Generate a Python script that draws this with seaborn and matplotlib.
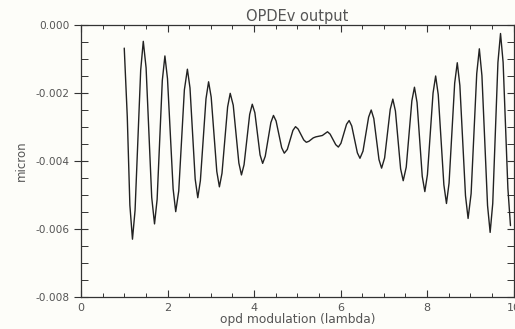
import matplotlib
matplotlib.use("Agg")
import matplotlib.pyplot as plt
import seaborn as sns
import pandas as pd
from matplotlib.ticker import MultipleLocator, FormatStrFormatter

# data (peaks, troughs and shoulder points)
opd = [1.00, 1.07, 1.13, 1.19, 1.25, 1.38, 1.44, 1.505, 1.635, 1.70,
       1.76, 1.88, 1.94, 2.00, 2.13, 2.19, 2.26, 2.39, 2.46, 2.52,
       2.64, 2.70, 2.76, 2.89, 2.95, 3.01, 3.14, 3.20, 3.26, 3.39,
       3.45, 3.52, 3.65, 3.71, 3.77, 3.90, 3.96, 4.02, 4.14, 4.20,
       4.26, 4.39, 4.45, 4.51, 4.64, 4.70, 4.77, 4.90, 4.96, 5.02,
       5.15, 5.21, 5.27, 5.37, 5.43, 5.58, 5.70, 5.76, 5.89, 5.95,
       6.01, 6.14, 6.20, 6.26, 6.39, 6.45, 6.52, 6.65, 6.71, 6.77,
       6.89, 6.95, 7.02, 7.15, 7.21, 7.27, 7.39, 7.45, 7.52, 7.65,
       7.71, 7.77, 7.89, 7.95, 8.01, 8.14, 8.20, 8.26, 8.39, 8.45,
       8.51, 8.64, 8.70, 8.76, 8.89, 8.95, 9.02, 9.15, 9.21, 9.27,
       9.40, 9.46, 9.52, 9.64, 9.70, 9.76, 9.87, 9.93]
micron = [-0.00068, -0.00270, -0.00530, -0.00630, -0.00545, -0.00133, -0.00048, -0.00126, -0.00507, -0.00585,
          -0.00513, -0.00163, -0.00091, -0.00158, -0.00482, -0.00549, -0.00488, -0.00191, -0.00130, -0.00185,
          -0.00453, -0.00508, -0.00458, -0.00217, -0.00167, -0.00212, -0.00431, -0.00476, -0.00436, -0.00241,
          -0.00201, -0.00236, -0.00406, -0.00441, -0.00411, -0.00263, -0.00233, -0.00258, -0.00382, -0.00407,
          -0.00386, -0.00287, -0.00266, -0.00282, -0.00361, -0.00377, -0.00366, -0.00310, -0.00299, -0.00306,
          -0.00338, -0.00345, -0.00342, -0.00332, -0.00329, -0.00325, -0.00314, -0.00321, -0.00352, -0.00359,
          -0.00348, -0.00292, -0.00281, -0.00297, -0.00376, -0.00392, -0.00371, -0.00271, -0.00250, -0.00275,
          -0.00396, -0.00421, -0.00391, -0.00248, -0.00218, -0.00253, -0.00423, -0.00458, -0.00418, -0.00223,
          -0.00183, -0.00228, -0.00445, -0.00490, -0.00440, -0.00200, -0.00150, -0.00205, -0.00470, -0.00525,
          -0.00465, -0.00171, -0.00111, -0.00178, -0.00502, -0.00569, -0.00496, -0.00143, -0.00070, -0.00149,
          -0.00531, -0.00610, -0.00525, -0.00110, -0.00025, -0.00110, -0.00480, -0.00590]

title = "OPDEv output"
xlabel = "opd modulation (lambda)"
ylabel = "micron"

df = pd.DataFrame({"opd": opd, "micron": micron})

sns.set_style("ticks")
plt.rcParams["font.family"] = ["DejaVu Sans"]
txt = "#555555"

fig = plt.figure(figsize=(5.15, 3.29), dpi=100)
fig.patch.set_facecolor("#fdfdf9")
ax = fig.add_axes([81 / 515, 32 / 329, 432.5 / 515, 272 / 329])
ax.set_facecolor("#fdfdf9")

sns.lineplot(data=df, x="opd", y="micron", sort=False, estimator=None,
             color="#222222", linewidth=1.0, ax=ax)

ax.set_xlim(0, 10)
ax.set_ylim(-0.008, 0.0)
ax.xaxis.set_major_locator(MultipleLocator(2))
ax.xaxis.set_minor_locator(MultipleLocator(0.5))
ax.yaxis.set_major_locator(MultipleLocator(0.002))
ax.yaxis.set_minor_locator(MultipleLocator(0.0005))
ax.yaxis.set_major_formatter(FormatStrFormatter("%.3f"))
ax.xaxis.set_major_formatter(FormatStrFormatter("%d"))

ax.tick_params(axis="x", which="major", direction="in", length=5, width=0.8,
               top=True, bottom=True, labelsize=8, labelcolor=txt, color="#333333", pad=4)
ax.tick_params(axis="x", which="minor", direction="in", length=3, width=0.7,
               top=True, bottom=True, color="#333333")
ax.tick_params(axis="y", which="major", direction="inout", length=10, width=0.8,
               left=True, right=True, labelsize=7.6, labelcolor=txt, color="#333333", pad=3)
ax.tick_params(axis="y", which="minor", direction="in", length=5, width=0.7,
               left=True, right=True, color="#333333")

for s in ax.spines.values():
    s.set_color("#333333")
    s.set_linewidth(0.9)

ax.set_title(title, fontsize=10.5, color=txt, pad=3)
ax.set_xlabel(xlabel, fontsize=8.8, color=txt, labelpad=0)
ax.set_ylabel(ylabel, fontsize=8.5, color=txt, labelpad=6)

fig.savefig("out.png", dpi=100, facecolor=fig.get_facecolor())
